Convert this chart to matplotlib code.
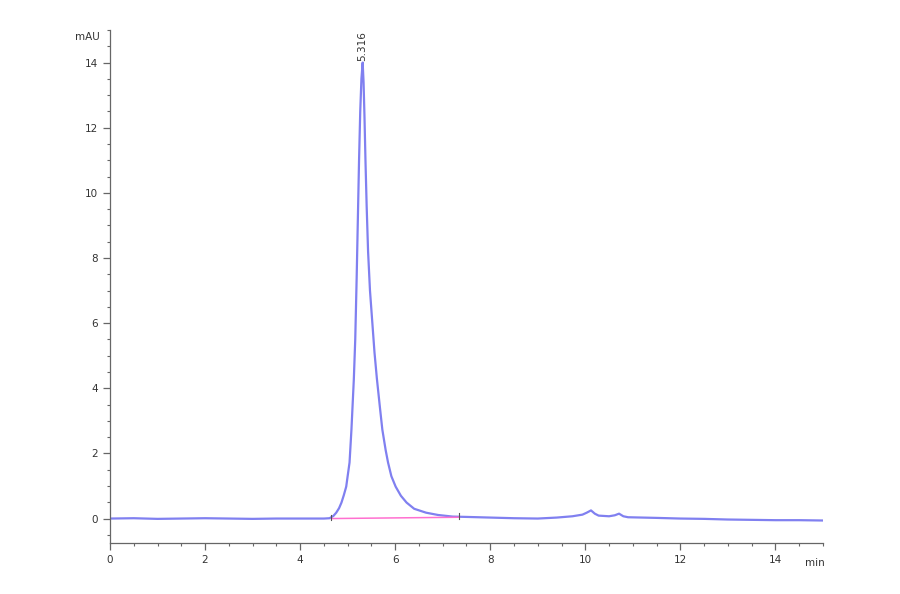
import matplotlib
matplotlib.use("Agg")
from matplotlib import pyplot as plt
from matplotlib.ticker import MultipleLocator

# chromatogram trace (min, mAU)
time_min = [0.0, 0.5, 1.0, 1.5, 2.0, 2.5, 3.0, 3.5, 4.0, 4.5, 4.62,
            4.70, 4.76, 4.82, 4.87, 4.92, 4.97, 5.00, 5.04, 5.08, 5.13,
            5.16, 5.19, 5.215, 5.24, 5.265, 5.29, 5.316,
            5.335, 5.355, 5.375, 5.40, 5.43, 5.47, 5.52, 5.565, 5.615, 5.68,
            5.73, 5.80, 5.85, 5.92, 6.01, 6.12, 6.24, 6.40, 6.65, 6.90,
            7.21, 7.5, 8.0, 8.5, 9.0, 9.4, 9.73, 9.94, 10.03, 10.12,
            10.2, 10.28, 10.5, 10.62, 10.71, 10.8, 10.9, 11.5, 12.0, 12.5,
            13.0, 13.5, 14.0, 14.5, 15.0]
signal_mau = [0.0, 0.01, -0.01, 0.0, 0.01, 0.0, -0.01, 0.0, 0.0, 0.0, 0.01,
              0.08, 0.18, 0.32, 0.49, 0.72, 0.98, 1.3, 1.72, 2.73, 4.27,
              5.5, 7.4, 9.2, 11.0, 12.5, 13.5, 14.0,
              13.4, 12.3, 11.0, 9.6, 8.2, 7.0, 6.0, 5.1, 4.3, 3.4,
              2.73, 2.1, 1.72, 1.3, 0.98, 0.7, 0.49, 0.3, 0.18, 0.11,
              0.06, 0.05, 0.03, 0.01, 0.0, 0.03, 0.07, 0.12, 0.18, 0.25,
              0.15, 0.09, 0.07, 0.1, 0.15, 0.07, 0.04, 0.02, 0.0, -0.01,
              -0.03, -0.04, -0.05, -0.05, -0.06]

# integration baseline of the main peak
base_x = [4.66, 7.35]
base_y = [0.0, 0.04]

peak_rt = 5.316
peak_label = "5.316"

fig = plt.figure(figsize=(9, 5.94), dpi=100)
ax = fig.add_axes([0.1222, 0.0859, 0.7922, 0.8636])

ax.plot(time_min, signal_mau, color="#8080f0", lw=1.6)
ax.plot(base_x, base_y, color="#ff70d0", lw=1.1)
ax.plot([base_x[0]] * 2, [base_y[0] - 0.05, base_y[0] + 0.12], color="#555555", lw=0.8)
ax.plot([base_x[1]] * 2, [base_y[1] - 0.05, base_y[1] + 0.12], color="#555555", lw=0.8)

ax.text(peak_rt, 14.05, peak_label, rotation=90, ha="center", va="bottom",
        fontsize=7.5, color="#333333", clip_on=False)

ax.set_xlim(0, 15)
ax.set_ylim(-0.75, 15)
ax.xaxis.set_major_locator(MultipleLocator(2))
ax.xaxis.set_minor_locator(MultipleLocator(0.5))
ax.yaxis.set_major_locator(MultipleLocator(2))
ax.yaxis.set_minor_locator(MultipleLocator(0.5))

for s in ["top", "right"]:
    ax.spines[s].set_visible(False)
for s in ["left", "bottom"]:
    ax.spines[s].set_color("#666666")
    ax.spines[s].set_linewidth(0.9)

ax.tick_params(which="major", length=5, width=0.9, color="#666666",
               labelsize=7.5, labelcolor="#333333")
ax.tick_params(which="minor", length=2.5, width=0.8, color="#666666")

ax.text(-0.014, 0.987, "mAU", transform=ax.transAxes, ha="right", va="center",
        fontsize=7.5, color="#333333")
# axis unit sits on the tick label row, right of the last tick
ax.text(14.82, -1.2, "min", ha="center", va="top", fontsize=7.5,
        color="#333333", clip_on=False)

fig.savefig("out.png", dpi=100)
